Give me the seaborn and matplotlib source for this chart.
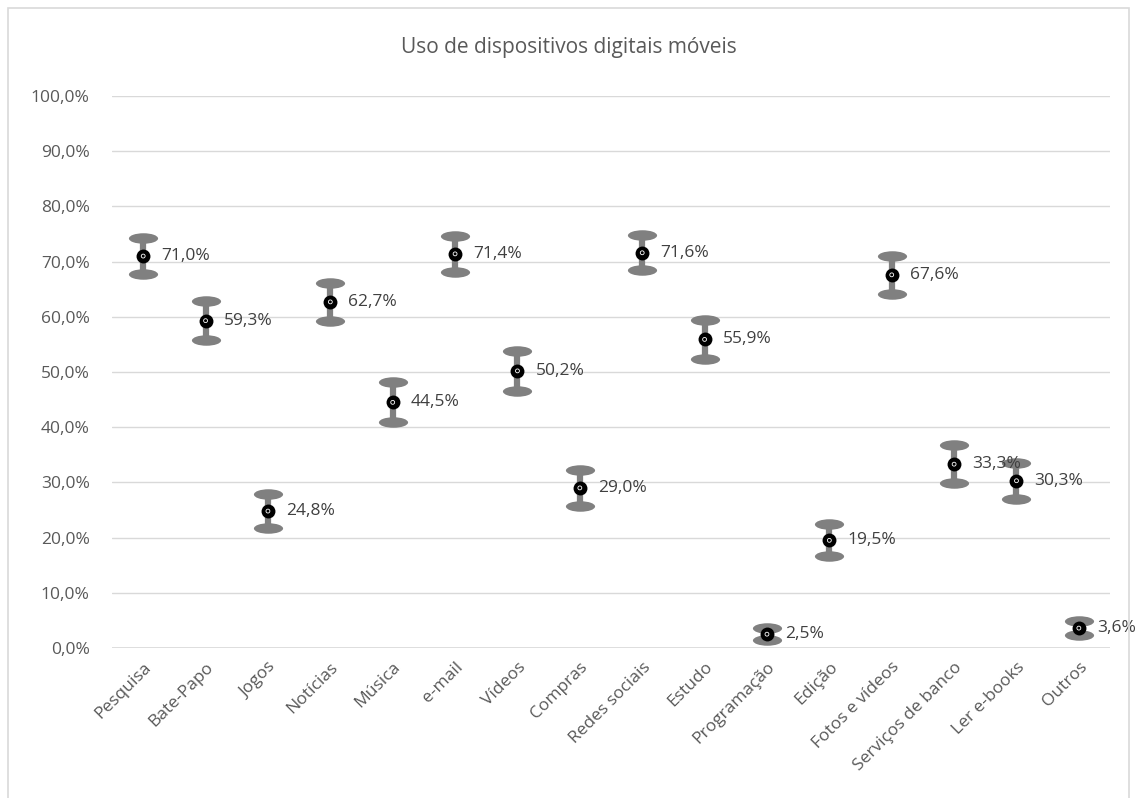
import numpy as np
import pandas as pd
import seaborn as sns
import matplotlib.pyplot as plt
from matplotlib.path import Path
from matplotlib.transforms import Affine2D
from matplotlib.patches import Rectangle
from matplotlib.ticker import FuncFormatter

# dados
categorias = ['Pesquisa', 'Bate-Papo', 'Jogos', 'Notícias', 'Música', 'e-mail', 'Vídeos',
              'Compras', 'Redes sociais', 'Estudo', 'Programação', 'Edição',
              'Fotos e vídeos', 'Serviços de banco', 'Ler e-books', 'Outros']
valores = [71.0, 59.3, 24.8, 62.7, 44.5, 71.4, 50.2, 29.0, 71.6, 55.9, 2.5, 19.5, 67.6, 33.3, 30.3, 3.6]
erros = [3.3, 3.5, 3.1, 3.5, 3.6, 3.2, 3.6, 3.3, 3.2, 3.6, 1.1, 2.9, 3.4, 3.4, 3.3, 1.3]

df = pd.DataFrame({'cat': categorias, 'valor': valores, 'erro': erros})
df['x'] = np.arange(len(df))

sns.set_style('white')
plt.rcParams['font.family'] = ['Open Sans', 'DejaVu Sans']
cinza = '#595959'

fig = plt.figure(figsize=(11.37, 7.98), dpi=100)
ax = fig.add_axes([0.0985, 0.188, 0.8778, 0.6917])

# linhas verticais do erro
ax.vlines(df['x'], df['valor'] - df['erro'], df['valor'] + df['erro'], color='#808080', lw=4.5, zorder=2)

# tampas em forma de elipse
elipse = Path.unit_circle().transformed(Affine2D().scale(1, 0.36))
for sinal in (-1, 1):
    ax.scatter(df['x'], df['valor'] + sinal * df['erro'], marker=elipse, s=21 ** 2,
               color='#808080', linewidths=0, zorder=3)

# pontos
sns.scatterplot(data=df, x='x', y='valor', ax=ax, color='black', s=10 ** 2, linewidth=0, zorder=4)
ax.scatter(df['x'], df['valor'], marker='o', s=2.8 ** 2, facecolors='none', edgecolors='white',
           linewidths=0.6, zorder=5)

for xi, v in zip(df['x'], df['valor']):
    ax.annotate(f'{v:.1f}%'.replace('.', ','), (xi, v), xytext=(13, 0), textcoords='offset points',
                ha='left', va='center', fontsize=12.5, color='#404040', zorder=6)

ax.set_xlim(-0.5, len(df) - 0.5)
ax.set_ylim(0, 100)
ax.set_yticks(np.arange(0, 101, 10))
ax.yaxis.set_major_formatter(FuncFormatter(lambda v, p: f'{v:.1f}%'.replace('.', ',')))
ax.set_xticks(df['x'])
ax.set_xticklabels(categorias, rotation=45, ha='right', rotation_mode='anchor')
ax.tick_params(axis='both', labelsize=12.5, labelcolor=cinza, length=0)
ax.tick_params(axis='y', pad=16)
ax.tick_params(axis='x', pad=8)
ax.grid(axis='y', color='#d9d9d9', lw=1)
ax.set_axisbelow(True)
for s in ax.spines.values():
    s.set_visible(False)
ax.axhline(0, color='#d9d9d9', lw=1.2, zorder=1)
ax.set_xlabel('')
ax.set_ylabel('')

fig.text(0.5, 0.941, 'Uso de dispositivos digitais móveis', ha='center', va='center',
         fontsize=15, color=cinza)
fig.patches.append(Rectangle((0.007, -0.01), 0.986, 1.0, transform=fig.transFigure,
                             fill=False, edgecolor='#d9d9d9', lw=1.2))

fig.savefig('out.png', dpi=100)
